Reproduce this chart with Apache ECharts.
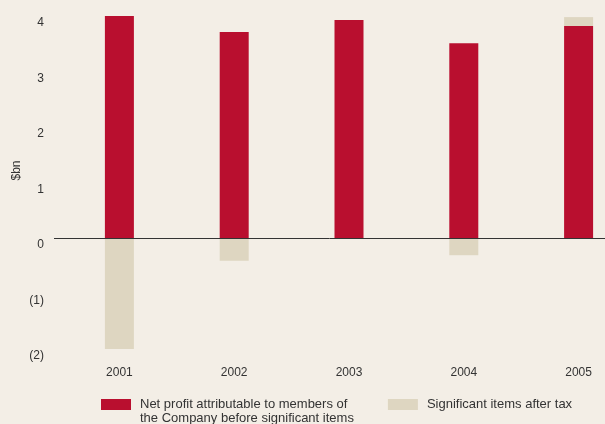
<!DOCTYPE html>
<html>
<head>
<meta charset="utf-8">
<script src="https://cdn.jsdelivr.net/npm/echarts@6/dist/echarts.min.js"></script>
<style>
  html, body { margin: 0; padding: 0; background: #f3eee6; }
  #chart { width: 605px; height: 424px; }
</style>
</head>
<body>
<div id="chart"></div>
<script>
  // values in $bn
  var years = ['2001', '2002', '2003', '2004', '2005']
  var netProfit = [4.02, 3.71, 3.93, 3.51, 3.82]
  var significantItems = [-2.0, -0.41, 0, -0.31, 0.16]
  var profitName = 'Net profit attributable to members of\nthe Company before significant items'
  var itemsName = 'Significant items after tax'

  var chart = echarts.init(document.getElementById('chart'))
  var txt = '#333333'

  chart.setOption({
    backgroundColor: '#f3eee6',
    animation: false,
    textStyle: { fontFamily: 'Liberation Sans, Arial, sans-serif' },
    // plot runs past the right edge, like the original
    grid: { left: 62, width: 574, top: 16, bottom: 75, outerBoundsMode: 'none' },
    legend: {
      left: 101,
      top: 383.5,
      padding: 0,
      itemWidth: 30,
      itemHeight: 11,
      itemGap: 34,
      icon: 'rect',
      textStyle: { color: txt, fontSize: 13, lineHeight: 14, padding: [0, 0, 0, 4] },
      // empty first line so the first text line sits level with the swatch
      formatter: function (name) {
        return name === profitName ? '\n' + name : name
      },
      data: [profitName, itemsName]
    },
    xAxis: {
      type: 'category',
      data: years,
      axisLine: { show: false },
      axisTick: { show: false },
      axisLabel: { color: txt, fontSize: 12, margin: 18 }
    },
    yAxis: {
      type: 'value',
      min: -2,
      max: 4,
      interval: 1,
      name: '$bn',
      nameLocation: 'middle',
      nameRotate: 90,
      nameGap: 39,
      nameMoveOverlap: false,
      nameTextStyle: { color: txt, fontSize: 12, padding: [0, 0, 0, 24] },
      axisLine: { show: false },
      axisTick: { show: false },
      splitLine: { show: false },
      axisLabel: {
        color: txt,
        fontSize: 12,
        margin: 18,
        verticalAlign: 'top',
        lineHeight: 14,
        formatter: function (v) { return v < 0 ? '(' + (-v) + ')' : String(v) }
      }
    },
    series: [
      {
        name: profitName,
        type: 'bar',
        stack: 'total',
        barWidth: 29,
        itemStyle: { color: '#b90f2f' },
        data: netProfit,
        markLine: {
          silent: true,
          symbol: 'none',
          label: { show: false },
          lineStyle: { color: '#333333', width: 1, type: 'solid' },
          // zero line starts a little left of the plot, as in the original
          data: [[{ x: 54, yAxis: 0 }, { x: '100%', yAxis: 0 }]]
        }
      },
      {
        name: itemsName,
        type: 'bar',
        stack: 'total',
        barWidth: 29,
        itemStyle: { color: '#ded6c1' },
        data: significantItems
      }
    ]
  })
</script>
</body>
</html>
